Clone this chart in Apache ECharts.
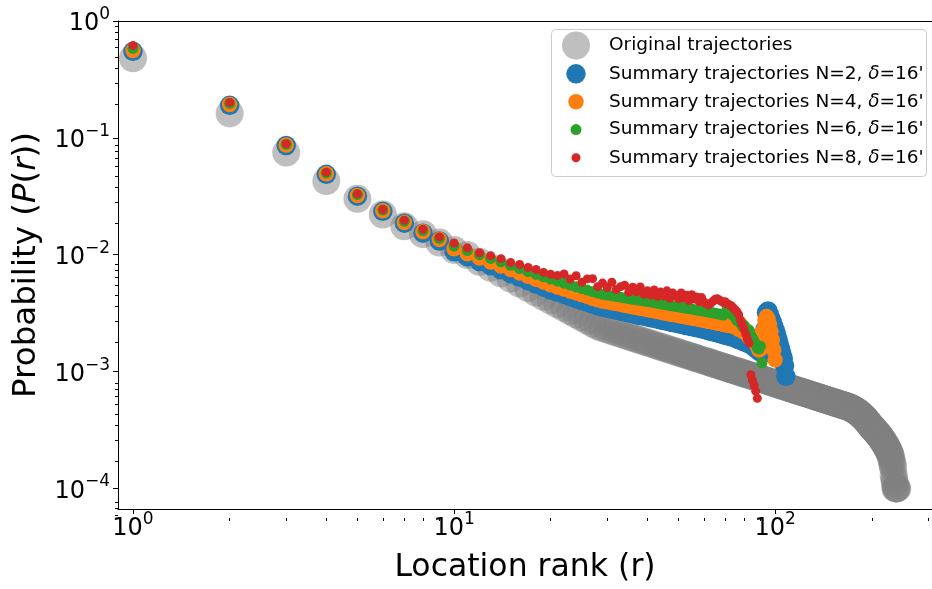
<!DOCTYPE html>
<html>
<head>
<meta charset="utf-8">
<script src="https://cdn.jsdelivr.net/npm/echarts@6/dist/echarts.min.js"></script>
<style>
  html, body { margin: 0; padding: 0; background: #fff; }
  #chart { width: 932px; height: 589px; }
</style>
</head>
<body>
<div id="chart"></div>
<script>
// Probability of visiting the r-th ranked location (index i holds rank i + 1)
const originalP = [
  0.48, 0.162, 0.0748, 0.0427, 0.0301, 0.0221, 0.0175, 0.0150, 0.0127, 0.0110,
  0.00993, 0.00871, 0.00773, 0.00692, 0.00624, 0.00566, 0.00517, 0.00474, 0.00437, 0.00405,
  0.00377, 0.00351, 0.00328, 0.00308, 0.00290, 0.00273, 0.00258, 0.00244,
  2.352e-3, 2.283e-3, 2.218e-3, 2.157e-3, 2.100e-3, 2.045e-3, 1.994e-3, 1.945e-3, 1.898e-3, 1.854e-3,
  1.812e-3, 1.773e-3, 1.735e-3, 1.698e-3, 1.663e-3, 1.630e-3, 1.598e-3, 1.567e-3, 1.538e-3, 1.510e-3,
  1.483e-3, 1.457e-3, 1.431e-3, 1.407e-3, 1.384e-3, 1.361e-3, 1.339e-3, 1.318e-3, 1.298e-3, 1.278e-3,
  1.259e-3, 1.240e-3, 1.223e-3, 1.205e-3, 1.189e-3, 1.172e-3, 1.156e-3, 1.141e-3, 1.126e-3, 1.111e-3,
  1.097e-3, 1.083e-3, 1.070e-3, 1.057e-3, 1.044e-3, 1.032e-3, 1.019e-3, 1.008e-3, 0.996e-3, 0.985e-3,
  0.974e-3, 0.963e-3, 0.953e-3, 0.943e-3, 0.932e-3, 0.923e-3, 0.913e-3, 0.904e-3, 0.895e-3, 0.885e-3,
  0.877e-3, 0.869e-3, 0.860e-3, 0.852e-3, 0.844e-3, 0.836e-3, 0.828e-3, 0.820e-3, 0.813e-3, 0.805e-3,
  0.798e-3, 0.791e-3,
  0.784e-3, 0.777e-3, 0.771e-3, 0.764e-3, 0.758e-3, 0.751e-3, 0.745e-3, 0.739e-3, 0.733e-3, 0.727e-3,
  0.722e-3, 0.716e-3, 0.710e-3, 0.705e-3, 0.699e-3, 0.694e-3, 0.689e-3, 0.684e-3, 0.679e-3, 0.674e-3,
  0.669e-3, 0.664e-3, 0.659e-3, 0.655e-3, 0.650e-3, 0.645e-3, 0.641e-3, 0.637e-3, 0.632e-3, 0.628e-3,
  0.624e-3, 0.620e-3, 0.615e-3, 0.611e-3, 0.607e-3, 0.603e-3, 0.600e-3, 0.596e-3, 0.592e-3, 0.588e-3,
  0.585e-3, 0.581e-3, 0.577e-3, 0.574e-3, 0.570e-3, 0.567e-3, 0.564e-3, 0.560e-3, 0.557e-3, 0.554e-3,
  0.550e-3, 0.547e-3, 0.544e-3, 0.541e-3, 0.538e-3, 0.535e-3, 0.532e-3, 0.529e-3, 0.526e-3, 0.523e-3,
  0.520e-3, 0.517e-3, 0.515e-3, 0.512e-3, 0.509e-3, 0.506e-3, 0.504e-3, 0.501e-3, 0.498e-3, 0.496e-3,
  0.492e-3, 0.488e-3, 0.484e-3, 0.480e-3, 0.476e-3, 0.472e-3, 0.467e-3, 0.463e-3, 0.458e-3, 0.453e-3,
  0.448e-3, 0.443e-3, 0.438e-3, 0.432e-3, 0.427e-3, 0.421e-3, 0.415e-3, 0.409e-3, 0.403e-3, 0.397e-3,
  0.391e-3, 0.385e-3, 0.379e-3, 0.372e-3, 0.366e-3, 0.359e-3, 0.352e-3, 0.345e-3,
  0.340e-3, 0.336e-3, 0.331e-3, 0.326e-3, 0.321e-3, 0.316e-3, 0.311e-3, 0.306e-3, 0.301e-3, 0.297e-3,
  0.292e-3, 0.288e-3, 0.283e-3, 0.279e-3,
  0.274e-3, 0.269e-3, 0.264e-3, 0.259e-3, 0.254e-3, 0.249e-3, 0.244e-3, 0.239e-3, 0.234e-3, 0.229e-3,
  0.224e-3, 0.219e-3, 0.213e-3, 0.208e-3, 0.203e-3, 0.197e-3, 0.19e-3, 0.18e-3, 0.17e-3, 0.16e-3,
  0.15e-3, 0.13e-3, 0.12e-3, 0.11e-3, 0.10e-3, 0.10e-3, 0.10e-3, 0.10e-3
];

const summaryN2 = [
  0.55, 0.190, 0.086, 0.0488, 0.0317, 0.0235, 0.0186, 0.0153, 0.0131, 0.0106,
  0.00958, 0.00874, 0.00803, 0.00743, 0.00688, 0.00640, 0.00598, 0.00561, 0.00528, 0.00499,
  0.00477, 0.00457, 0.00438, 0.00421, 0.00405, 0.00391, 0.00377, 0.00365,
  0.00355, 0.00348, 0.00341, 0.00335, 0.00329, 0.00323, 0.00317, 0.00312, 0.00307, 0.00302, 0.00298, 0.00293,
  0.00289, 0.00285, 0.00281, 0.00277, 0.00273, 0.00270, 0.00266, 0.00263, 0.00260, 0.00257,
  0.00254, 0.00251, 0.00248, 0.00246, 0.00243, 0.00240, 0.00238, 0.00235,
  0.00233, 0.00230, 0.00227, 0.00224, 0.00222, 0.00219, 0.00217, 0.00214, 0.00212, 0.00210,
  0.00207, 0.00205, 0.00203, 0.00201, 0.00199, 0.00197,
  0.00194, 0.00191, 0.00188, 0.00186, 0.00183, 0.00180, 0.00178, 0.00175, 0.00173, 0.00172,
  0.00166, 0.00162, 0.00158, 0.00154, 0.00150, 0.00147, 0.00145, 0.00144,
  0.00230, 0.00319, 0.00330, 0.00307, 0.00284, 0.00263, 0.00244, 0.00225, 0.00209, 0.00189,
  0.00172, 0.00156, 0.00142, 0.00129, 0.00112, 0.00091
];

const summaryN4 = [
  0.56, 0.193, 0.087, 0.0494, 0.0321, 0.0238, 0.0189, 0.0157, 0.0135, 0.01124,
  0.01021, 0.00937, 0.00865, 0.00802, 0.00746, 0.00698, 0.00655, 0.00617, 0.00583, 0.00554,
  0.00530, 0.00510, 0.00489, 0.00472, 0.00454, 0.00440, 0.00425, 0.00412,
  0.00402, 0.00395, 0.00388, 0.00382, 0.00376, 0.00370, 0.00364, 0.00359, 0.00354, 0.00349, 0.00345, 0.00340, 0.00335,
  0.00331, 0.00327, 0.00323, 0.00319, 0.00316, 0.00311, 0.00308, 0.00306, 0.00302, 0.00299,
  0.00296, 0.00293, 0.00291, 0.00288, 0.00285, 0.00283, 0.00280,
  0.00278, 0.00275, 0.00272, 0.00269, 0.00268, 0.00265, 0.00263, 0.00260, 0.00259, 0.00257,
  0.00254, 0.00252, 0.00250, 0.00249, 0.00247, 0.00244,
  0.00244, 0.00239, 0.00230, 0.00253, 0.00234, 0.00217, 0.00226, 0.00209, 0.00197, 0.00189,
  0.00201, 0.00186, 0.00175, 0.00165, 0.00153, 0.00156, 0.00189, 0.00230, 0.00274, 0.00296,
  0.00284, 0.00253, 0.00221, 0.00186, 0.00153, 0.00126
];

const summaryN6 = [
  0.582, 0.197, 0.088, 0.050, 0.0327, 0.0241, 0.0193, 0.0161, 0.0138, 0.01187,
  0.01085, 0.01001, 0.00930, 0.00869, 0.00812, 0.00762, 0.00718, 0.00679, 0.00647, 0.00619,
  0.00594, 0.00571, 0.00550, 0.00531, 0.00514, 0.00498, 0.00483, 0.00469,
  0.00459, 0.00452, 0.00445, 0.00439, 0.00433, 0.00427, 0.00421, 0.00416, 0.00411, 0.00406, 0.00402, 0.00397, 0.00393,
  0.00389, 0.00384, 0.00380, 0.00375, 0.00372, 0.00367, 0.00364, 0.00361, 0.00358, 0.00354,
  0.00351, 0.00348, 0.00346, 0.00343, 0.00339, 0.00337, 0.00334,
  0.00332, 0.00329, 0.00326, 0.00323, 0.00321, 0.00318, 0.00316, 0.00312, 0.00311, 0.00309, 0.00305,
  0.00320, 0.00352, 0.00330, 0.00319, 0.00301, 0.00292, 0.00274, 0.00280, 0.00259, 0.00244,
  0.00249, 0.00230, 0.00217, 0.00226, 0.00205, 0.00193, 0.00182, 0.00172, 0.00159, 0.00156,
  0.00165, 0.00119
];

const summaryN8 = [
  0.616, 0.201, 0.089, 0.0508, 0.0332, 0.0244, 0.0197, 0.0165, 0.0142, 0.0126,
  0.01146, 0.0104, 0.00982, 0.00925, 0.00857, 0.00824, 0.00778, 0.00748, 0.00706, 0.00679,
  0.00665, 0.00685, 0.00619, 0.00661, 0.00580, 0.00621, 0.00624, 0.00533, 0.00572, 0.00524,
  0.00581, 0.00504, 0.00533, 0.00547, 0.00478, 0.00528, 0.00481, 0.00529, 0.00460, 0.00491, 0.00451,
  0.00500, 0.00441, 0.00479, 0.00444, 0.00491, 0.00425, 0.00471, 0.00446, 0.00421, 0.00471,
  0.00424, 0.00451, 0.00405, 0.00454, 0.00417, 0.00435, 0.00398,
  0.00430, 0.00395, 0.00380, 0.00372, 0.00385, 0.00400, 0.00415, 0.00420, 0.00410, 0.00400,
  0.00390, 0.00395, 0.00380, 0.00373, 0.00366, 0.00352, 0.00338, 0.00326, 0.00307, 0.00274,
  0.00253, 0.00230, 0.00209, 0.00189, 0.00175, 0.00094, 0.00084, 0.00076, 0.00068, 0.00059
];

const seriesNames = [
  'Original trajectories',
  "Summary trajectories N=2, δ=16'",
  "Summary trajectories N=4, δ=16'",
  "Summary trajectories N=6, δ=16'",
  "Summary trajectories N=8, δ=16'"
];

// Axis ticks
const xMajorTicks = [1, 10, 100];
const xMinorTicks = [2, 3, 4, 5, 6, 7, 8, 9, 20, 30, 40, 50, 60, 70, 80, 90, 200, 300];
const yMajorTicks = [1e-4, 1e-3, 1e-2, 1e-1, 1];
const yMinorTicks = [
  7e-5, 8e-5, 9e-5,
  2e-4, 3e-4, 4e-4, 5e-4, 6e-4, 7e-4, 8e-4, 9e-4,
  2e-3, 3e-3, 4e-3, 5e-3, 6e-3, 7e-3, 8e-3, 9e-3,
  2e-2, 3e-2, 4e-2, 5e-2, 6e-2, 7e-2, 8e-2, 9e-2,
  0.2, 0.3, 0.4, 0.5, 0.6, 0.7, 0.8, 0.9
];

const FONT = "'DejaVu Sans', sans-serif";
const X_MIN = 0.898, X_MAX = 308;
const Y_MIN = 6.67e-5, Y_MAX = 1;

const seriesData = [originalP, summaryN2, summaryN4, summaryN6, summaryN8];
const seriesColors = ['#808080', '#1f77b4', '#ff7f0e', '#2ca02c', '#d62728'];
const seriesOpacity = [0.5, 1, 1, 1, 1];
const markerSizes = [28, 19.5, 15.5, 11, 9];

const withRanks = arr => arr.map((p, i) => [i + 1, p]);

function powerLabel(value) {
  const e = Math.round(Math.log10(value));
  const exp = e < 0 ? '\u2212' + (-e) : String(e);
  return '{b|10}{s|' + exp + '}';
}
const powerRich = {
  b: { fontFamily: FONT, fontSize: 24, color: '#000', lineHeight: 30, verticalAlign: 'bottom' },
  s: { fontFamily: FONT, fontSize: 17, color: '#000', lineHeight: 17, verticalAlign: 'top' }
};

// Legend: symbol column centred at x = 576, text column starting at x = 609
const LEGEND_FONT = 18.5;
const LEGEND_TEXT_H = 18.5;
const LEGEND_ICON_BOX = 56;
const LEGEND_ICON_CX = 576;
const legendRowCenters = [45.5, 73.8, 101.5, 129.3, 157.5];

function legendLabel(name) {
  const parts = name.split('δ');
  if (parts.length < 2) return '{t|' + name + '}';
  return '{t|' + parts[0] + '}{i|δ}{t|' + parts[1] + '}';
}
const legendRich = {
  t: { fontFamily: FONT, fontSize: LEGEND_FONT, color: '#000' },
  i: { fontFamily: FONT, fontSize: LEGEND_FONT, color: '#000', fontStyle: 'italic' }
};

const chart = echarts.init(document.getElementById('chart'), null, { renderer: 'canvas' });

const option = {
  animation: false,
  backgroundColor: '#fff',
  grid: [
    { left: 118, right: 0, top: 21, bottom: 71 },
    { left: 118, right: 0, top: 21, bottom: 71 }
  ],
  xAxis: [
    {
      type: 'log', gridIndex: 0, position: 'bottom', min: X_MIN, max: X_MAX,
      axisLine: { show: true, onZero: false, lineStyle: { color: '#000', width: 1 } },
      axisTick: { show: true, inside: false, length: 5, customValues: xMajorTicks, lineStyle: { color: '#000', width: 1 } },
      axisLabel: { show: true, customValues: xMajorTicks, margin: 2, formatter: powerLabel, rich: powerRich },
      splitLine: { show: false }, minorTick: { show: false },
      name: 'Location rank (r)', nameLocation: 'middle', nameGap: 43,
      nameTextStyle: { fontFamily: FONT, fontSize: 31.5, color: '#000' }
    },
    {
      type: 'log', gridIndex: 0, position: 'top', min: X_MIN, max: X_MAX,
      axisLine: { show: true, onZero: false, lineStyle: { color: '#000', width: 1 } },
      axisTick: { show: false }, axisLabel: { show: false }, splitLine: { show: false }
    },
    {
      type: 'log', gridIndex: 1, position: 'bottom', min: X_MIN, max: X_MAX,
      axisLine: { show: false },
      axisTick: { show: true, inside: false, length: 3, customValues: xMinorTicks, lineStyle: { color: '#000', width: 1 } },
      axisLabel: { show: false }, splitLine: { show: false }
    }
  ],
  yAxis: [
    {
      type: 'log', gridIndex: 0, position: 'left', min: Y_MIN, max: Y_MAX,
      axisLine: { show: true, onZero: false, lineStyle: { color: '#000', width: 1 } },
      axisTick: { show: true, inside: false, length: 5, customValues: yMajorTicks, lineStyle: { color: '#000', width: 1 } },
      axisLabel: { show: true, customValues: yMajorTicks, margin: 8, formatter: powerLabel, rich: powerRich },
      splitLine: { show: false },
      name: '{t|Probability (}{i|P}{t|(}{i|r}{t|))}', nameLocation: 'middle', nameGap: 71, nameRotate: 90,
      nameTextStyle: {
        fontFamily: FONT, fontSize: 32.5, color: '#000',
        rich: {
          t: { fontFamily: FONT, fontSize: 32.5, color: '#000' },
          i: { fontFamily: FONT, fontSize: 32.5, color: '#000', fontStyle: 'italic' }
        }
      }
    },
    {
      type: 'log', gridIndex: 1, position: 'left', min: Y_MIN, max: Y_MAX,
      axisLine: { show: false },
      axisTick: { show: true, inside: false, length: 3, customValues: yMinorTicks, lineStyle: { color: '#000', width: 1 } },
      axisLabel: { show: false }, splitLine: { show: false }
    }
  ],
  legend: seriesNames.map((name, i) => ({
    data: [name],
    left: LEGEND_ICON_CX - markerSizes[i] / 2,
    top: legendRowCenters[i] - Math.max(markerSizes[i], LEGEND_TEXT_H) / 2,
    itemWidth: LEGEND_ICON_BOX,
    itemHeight: markerSizes[i],
    padding: 0,
    selectedMode: false,
    formatter: legendLabel,
    textStyle: { fontFamily: FONT, fontSize: LEGEND_FONT, color: '#000', rich: legendRich }
  })),
  graphic: [{
    type: 'rect', z: 3,
    shape: { x: 551.5, y: 29.5, width: 375, height: 147, r: 4 },
    style: { fill: 'rgba(255,255,255,0.8)', stroke: '#cccccc', lineWidth: 1 }
  }],
  series: seriesData.map((arr, i) => ({
    type: 'scatter',
    name: seriesNames[i],
    xAxisIndex: 0, yAxisIndex: 0,
    data: withRanks(arr),
    symbol: 'circle',
    symbolSize: markerSizes[i],
    itemStyle: { color: seriesColors[i], opacity: seriesOpacity[i] },
    emphasis: { disabled: true },
    silent: true
  }))
};

chart.setOption(option);
</script>
</body>
</html>
